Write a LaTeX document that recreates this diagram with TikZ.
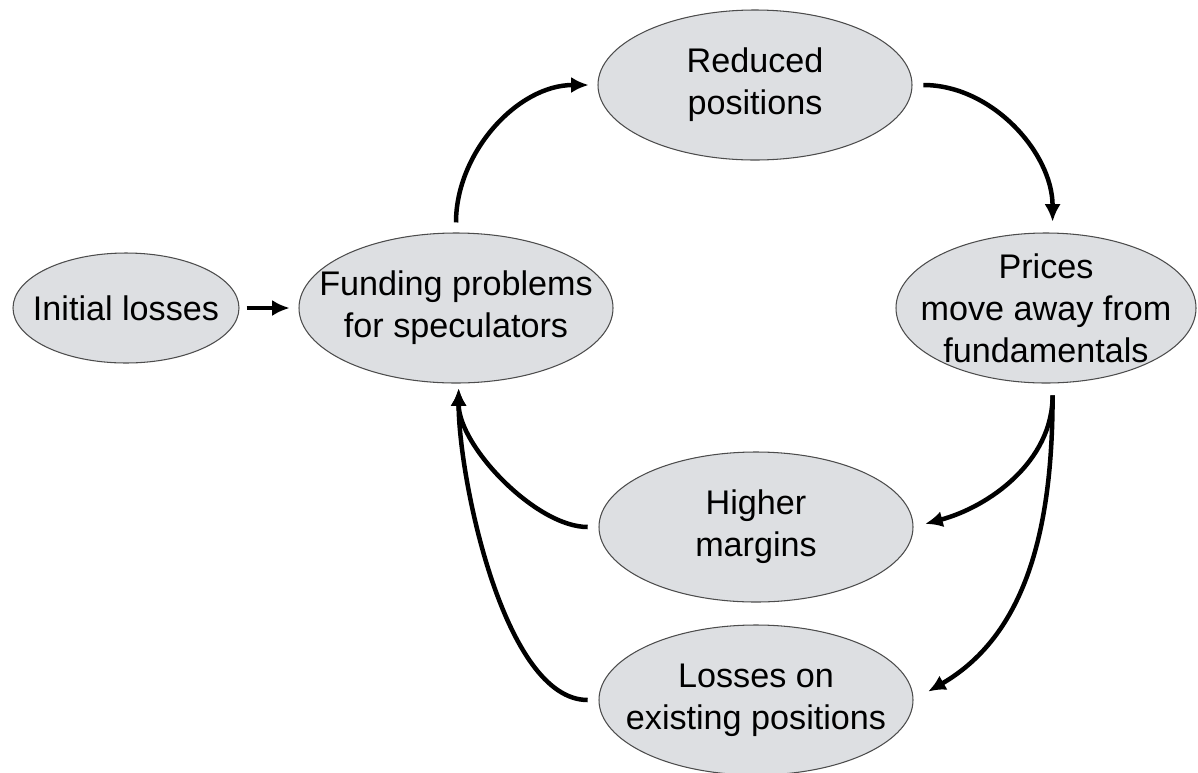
\documentclass[tikz,border=0pt]{standalone}
\usepackage{fontspec}
\setmainfont{Liberation Sans}
\usetikzlibrary{arrows.meta,shapes.geometric}
\definecolor{blobgray}{RGB}{221,223,226}

\begin{document}
\begin{tikzpicture}[scale=0.25]
\tikzstyle{every node}+=[inner sep=0pt]
\tikzstyle{blob}=[ellipse,draw=black!70,line width=0.75pt,fill=blobgray,minimum width=7.85cm,minimum height=3.75cm]
\tikzstyle{txt}=[align=center,font=\fontsize{24.3}{29.9}\selectfont]
\tikzstyle{link}=[line width=3.2pt,-{Latex[length=12.5pt,width=11.5pt]}]
\useasboundingbox (0,0) rectangle (119.8,-77.2);
\node [blob,minimum width=5.65cm,minimum height=2.75cm,label={[txt]center:Initial losses}] (init) at (12.6,-30.8) {};
\node [blob,label={[txt]center:Funding problems\\for speculators}] (fund) at (45.6,-30.8) {};
\node [blob,label={[txt]center:Reduced\\positions}] (red) at (75.5,-8.5) {};
\node [blob,minimum width=7.5cm,label={[txt]center:Prices\\move away from\\fundamentals}] (price) at (104.6,-30.8) {};
\node [blob,label={[txt]center:Higher\\margins}] (high) at (75.6,-52.7) {};
\node [blob,label={[txt]center:Losses on\\existing positions}] (loss) at (75.6,-70) {};
\draw [link,shorten <=0.18cm,shorten >=0.22cm] (init.east) -- (fund.west);
\draw [link,shorten <=0.25cm,shorten >=0.22cm] (fund.north) to [out=90,in=180] (red.west);
\draw [link,shorten <=0.27cm,shorten >=0.27cm] (red.east) to [out=0,in=90] (price.85);
\draw [link,shorten <=0.3cm,shorten >=0.3cm] (price.-85) to [out=-90,in=15] (high.east);
\draw [link,shorten <=0.3cm,shorten >=0.42cm] (price.-85) to [out=-90,in=30] (loss.east);
\draw [link,shorten <=0.27cm,shorten >=0.12cm] (high.west) to [out=180,in=-90,looseness=0.8] (fund.-88);
\draw [link,shorten <=0.27cm,shorten >=0.12cm] (loss.west) to [out=180,in=-90,looseness=0.7] (fund.-88);
\end{tikzpicture}
\end{document}
